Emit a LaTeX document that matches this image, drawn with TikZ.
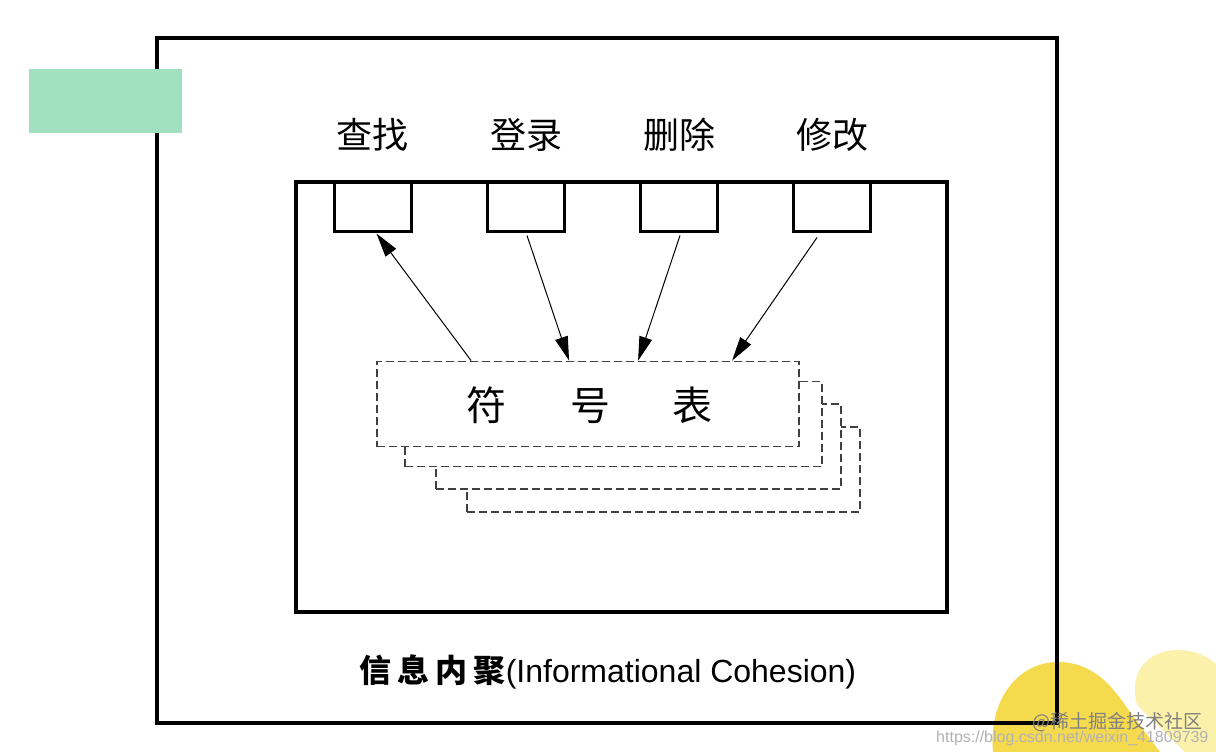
\documentclass[tikz,border=0pt]{standalone}
\usepackage{fontspec}
\setmainfont{Liberation Sans}
\newfontfamily\cjk{Noto Sans CJK SC}
\usetikzlibrary{arrows.meta,calc}
\definecolor{mint}{HTML}{A0E0BE}
\definecolor{ywm}{HTML}{F6DA4E}
\definecolor{ywp}{HTML}{FBF1AA}
\tikzset{
  frame/.style={draw=black,line width=3.2pt,inner sep=0pt},
  opbox/.style={draw=black,line width=3pt,minimum width=77pt,minimum height=49pt,inner sep=0pt},
  oplabel/.style={font=\cjk\fontsize{36}{40}\selectfont,inner sep=0pt},
  sheet/.style={draw=black!75,fill=white,dashed,dash pattern=on 8pt off 4pt,line width=1.8pt,minimum height=85pt,inner sep=0pt},
  link/.style={draw=black,line width=1pt,-{Triangle[length=24pt,width=13pt]}},
}
\begin{document}
\begin{tikzpicture}[x=1pt,y=-1pt]
\fill[white] (0,0) rectangle (1216,752);
\useasboundingbox (0,0) rectangle (1216,752);
% watermark shapes
\fill[ywm] (993,752) .. controls (988,700) and (1018,662) .. (1058,662) .. controls (1088,662) and (1108,680) .. (1125,705) -- (1160,752) -- cycle;
\fill[ywp] (1137,705) .. controls (1128,672) and (1148,650) .. (1178,650) .. controls (1196,650) and (1210,658) .. (1216,664) -- (1216,752) -- (1185,752) -- cycle;
% frames
\node[frame,minimum width=900pt,minimum height=685pt] (outer) at (607,380.5) {};
\fill[mint] (29,69) rectangle (182,133);
\node[frame,minimum width=651pt,minimum height=430pt] (inner) at (621.5,397) {};
% operation boxes
\node[opbox] (b1) at (372.5,206.5) {};
\node[opbox] (b2) at (526,206.5) {};
\node[opbox] (b3) at (679,206.5) {};
\node[opbox] (b4) at (832,206.5) {};
\node[oplabel] (l1) at (372.5,135) {查找};
\node[oplabel] (l2) at (526,135) {登录};
\node[oplabel] (l3) at (679,135) {删除};
\node[oplabel] (l4) at (832,135) {修改};
% stacked sheets
\node[sheet,minimum width=393pt] (s4) at (663.3,469.3) {};
\node[sheet,minimum width=405pt] (s3) at (638.3,446.7) {};
\node[sheet,minimum width=417pt] (s2) at (613.3,424) {};
\node[sheet,minimum width=422pt] (s1) at (588,404) {};
\node[font=\cjk\fontsize{40}{44}\selectfont,inner sep=0pt] (st) at (589,405) {符\hspace{64pt}号\hspace{62pt}表};
% connectors
\draw[link] ($(s1.north west)+(95,0)$) -- ($(b1.south)+(4,1)$);
\draw[link] ($(b2.south)+(1,3)$) -- ($(s1.north west)+(193,0)$);
\draw[link] ($(b3.south)+(1,3)$) -- ($(s1.north west)+(262,0)$);
\draw[link] ($(b4.south)+(-15,5)$) -- ($(s1.north west)+(356,0)$);
% caption
\node[inner sep=0pt,anchor=base] (cap) at (608,682) {{\cjk\bfseries\fontsize{32}{36}\selectfont 信\hspace{6pt}息\hspace{6pt}内\hspace{6pt}聚}{\fontsize{32}{36}\selectfont (Informational Cohesion)}};
% watermark text
\node[inner sep=0pt,text=black!30,font=\fontsize{16}{18}\selectfont,anchor=west] (url) at (936,738) {https://blog.csdn.net/weixin\_41809739};
\node[inner sep=0pt,text=black!50,font=\cjk\fontsize{19}{21}\selectfont,anchor=west] (wm) at (1032,722) {@稀土掘金技术社区};
\end{tikzpicture}
\end{document}
